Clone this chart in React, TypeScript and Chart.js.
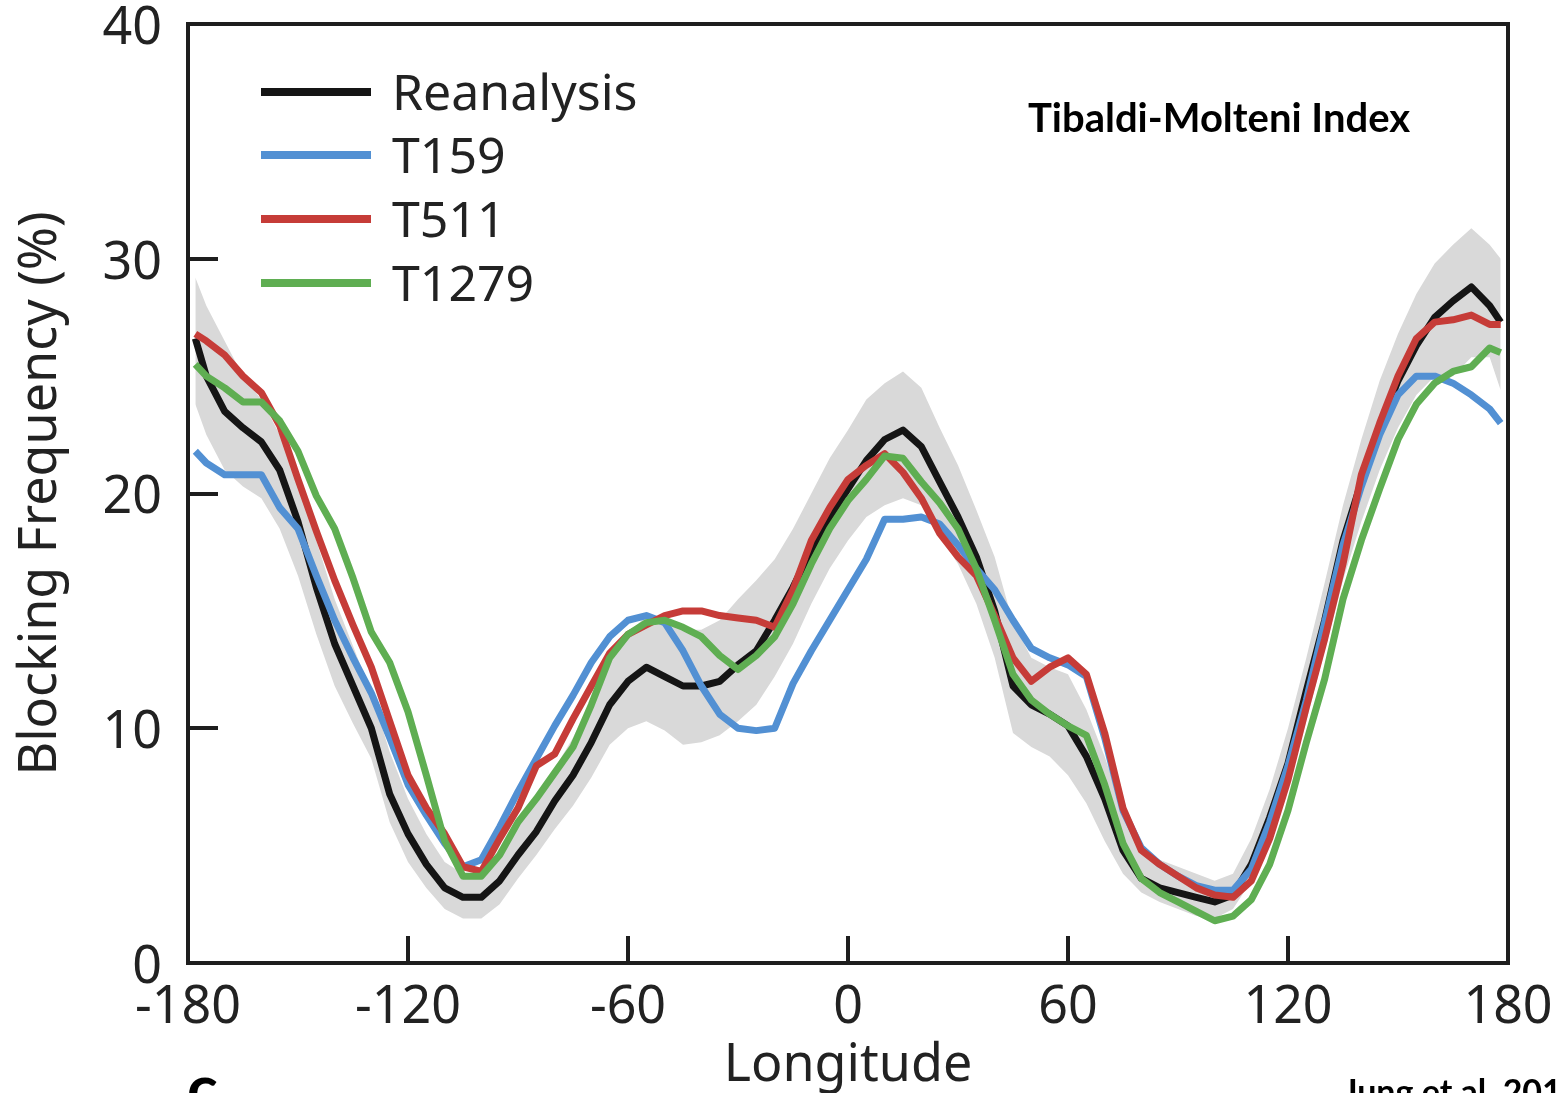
import React, { useEffect, useRef } from "react";
import { Chart, registerables } from "chart.js";

Chart.register(...registerables);

const longitudes = [
  -178, -175, -170, -165, -160, -155, -150, -145, -140, -135,
  -130, -125, -120, -115, -110, -105, -100, -95, -90, -85,
  -80, -75, -70, -65, -60, -55, -50, -45, -40, -35,
  -30, -25, -20, -15, -10, -5, 0, 5, 10, 15,
  20, 25, 30, 35, 40, 45, 50, 55, 60, 65,
  70, 75, 80, 85, 90, 95, 100, 105, 110, 115,
  120, 125, 130, 135, 140, 145, 150, 155, 160, 165,
  170, 175, 178,
];

const reanalysis = [
  26.6, 25.0, 23.5, 22.8, 22.2, 21.0, 18.8, 16.0, 13.6, 11.8,
  10.0, 7.2, 5.5, 4.2, 3.2, 2.8, 2.8, 3.5, 4.6, 5.6,
  6.9, 8.0, 9.4, 11.0, 12.0, 12.6, 12.2, 11.8, 11.8, 12.0,
  12.7, 13.3, 14.6, 16.0, 17.6, 19.0, 20.2, 21.4, 22.3, 22.7,
  22.0, 20.5, 19.0, 17.3, 15.0, 11.8, 11.0, 10.6, 10.1, 8.8,
  7.0, 4.8, 3.6, 3.2, 3.0, 2.8, 2.6, 2.9, 4.2, 6.2,
  8.5, 11.6, 14.6, 18.0, 20.5, 22.8, 24.8, 26.3, 27.5, 28.2,
  28.8, 28.0, 27.3,
];

const t159 = [
  21.8, 21.3, 20.8, 20.8, 20.8, 19.4, 18.5, 16.5, 14.6, 13.0,
  11.5, 9.6, 7.6, 6.3, 5.1, 4.1, 4.4, 5.8, 7.3, 8.7,
  10.1, 11.4, 12.8, 13.9, 14.6, 14.8, 14.5, 13.3, 11.8, 10.6,
  10.0, 9.9, 10.0, 11.9, 13.3, 14.6, 15.9, 17.2, 18.9, 18.9,
  19.0, 18.7, 17.8, 16.8, 15.9, 14.6, 13.4, 13.0, 12.7, 12.2,
  9.6, 6.5, 4.9, 4.2, 3.7, 3.3, 3.1, 3.1, 4.0, 6.0,
  8.4, 11.2, 14.5, 17.8, 20.3, 22.5, 24.2, 25.0, 25.0, 24.7,
  24.2, 23.6, 23.0,
];

const t511 = [
  26.8, 26.5, 25.9, 25.0, 24.3, 22.9, 20.6, 18.4, 16.3, 14.4,
  12.6, 10.3, 8.0, 6.6, 5.5, 4.1, 3.9, 5.3, 6.6, 8.4,
  8.9, 10.4, 11.8, 13.2, 14.0, 14.4, 14.8, 15.0, 15.0, 14.8,
  14.7, 14.6, 14.3, 15.9, 18.0, 19.4, 20.6, 21.2, 21.7, 20.9,
  19.8, 18.3, 17.3, 16.5, 14.8, 13.0, 12.0, 12.6, 13.0, 12.3,
  9.8, 6.6, 4.8, 4.2, 3.7, 3.2, 2.9, 2.8, 3.5, 5.3,
  7.8, 10.9, 13.8, 17.0, 20.8, 23.0, 25.0, 26.6, 27.3, 27.4,
  27.6, 27.2, 27.2,
];

const t1279 = [
  25.5, 25.0, 24.5, 23.9, 23.9, 23.1, 21.8, 19.9, 18.5, 16.4,
  14.1, 12.8, 10.7, 8.0, 5.2, 3.7, 3.7, 4.6, 6.0, 7.0,
  8.1, 9.2, 11.0, 13.0, 14.0, 14.5, 14.6, 14.3, 13.9, 13.1,
  12.5, 13.1, 13.9, 15.3, 17.0, 18.5, 19.7, 20.6, 21.6, 21.5,
  20.5, 19.6, 18.5, 16.8, 14.6, 12.3, 11.2, 10.6, 10.1, 9.7,
  7.6, 5.1, 3.6, 3.0, 2.6, 2.2, 1.8, 2.0, 2.7, 4.2,
  6.5, 9.4, 12.1, 15.5, 18.0, 20.2, 22.3, 23.8, 24.7, 25.2,
  25.4, 26.2, 26.0,
];

const bandUpper = [
  29.2, 28.0, 26.5, 25.0, 24.0, 22.5, 20.5, 18.0, 15.5, 13.5,
  11.5, 9.0, 7.0, 5.5, 4.3, 3.8, 3.8, 4.5, 5.8, 7.0,
  8.3, 9.6, 11.2, 12.8, 14.0, 14.8, 14.6, 14.2, 14.2, 14.6,
  15.5, 16.3, 17.2, 18.5, 20.0, 21.5, 22.7, 24.0, 24.7, 25.2,
  24.5, 22.8, 21.2, 19.3, 17.3, 14.5, 13.0, 12.6, 12.3, 10.8,
  8.8, 6.5, 5.0, 4.4, 4.1, 3.8, 3.5, 3.8, 5.3, 7.4,
  10.0, 13.0, 16.2, 19.5, 22.3, 24.8, 26.8, 28.5, 29.8, 30.6,
  31.3, 30.6, 30.0,
];

const bandLower = [
  23.8, 22.5, 21.0, 20.3, 19.8, 18.5, 16.5, 14.0, 11.8, 10.2,
  8.7, 6.0, 4.3, 3.2, 2.3, 1.9, 1.9, 2.5, 3.6, 4.6,
  5.7, 6.7, 7.9, 9.3, 10.0, 10.3, 9.9, 9.3, 9.4, 9.7,
  10.3, 11.0, 12.2, 13.6, 15.3, 16.8, 18.0, 19.0, 19.5, 19.8,
  19.5, 18.2, 17.0, 15.3, 13.0, 9.8, 9.2, 8.8, 8.0, 6.8,
  5.2, 3.8, 3.0, 2.6, 2.3, 2.0, 1.9, 2.3, 3.5, 5.4,
  7.5, 10.3, 13.3, 16.3, 18.8, 21.0, 22.8, 24.2, 25.0, 25.0,
  25.8, 25.8, 24.4,
];

const xTickValues = [-180, -120, -60, 0, 60, 120, 180];
const yTickValues = [0, 10, 20, 30, 40];

const seriesLabels = ["Reanalysis", "T159", "T511", "T1279"];
const seriesColors = ["#151515", "#5290d3", "#c63c38", "#5fae52"];
const seriesValues = [reanalysis, t159, t511, t1279];
const drawOrder = [3, 2, 1, 0];

const FONT = "'Noto Sans', sans-serif";
const INK = "#222222";

const toPoints = (vals: number[]) => longitudes.map((x, i) => ({ x, y: vals[i] }));

const decorPlugin = {
  id: "decor",
  afterDatasetsDraw(chart: any) {
    const { ctx, chartArea: a, scales } = chart;
    ctx.save();
    ctx.strokeStyle = "#1e1e1e";
    ctx.lineWidth = 4;
    ctx.lineCap = "butt";
    yTickValues.forEach((v) => {
      if (v === 0 || v === 40) return;
      const y = Math.round(scales.y.getPixelForValue(v));
      ctx.beginPath();
      ctx.moveTo(a.left, y);
      ctx.lineTo(a.left + 30, y);
      ctx.stroke();
    });
    xTickValues.forEach((v) => {
      if (v === -180 || v === 180) return;
      const x = Math.round(scales.x.getPixelForValue(v));
      ctx.beginPath();
      ctx.moveTo(x, a.bottom);
      ctx.lineTo(x, a.bottom - 27);
      ctx.stroke();
    });
    ctx.strokeRect(a.left, a.top, a.right - a.left, a.bottom - a.top);

    const rows = [68, 131, 195, 259];
    seriesLabels.forEach((label, i) => {
      const y = a.top + rows[i];
      ctx.strokeStyle = seriesColors[i];
      ctx.lineWidth = 8;
      ctx.beginPath();
      ctx.moveTo(a.left + 73, y);
      ctx.lineTo(a.left + 183, y);
      ctx.stroke();
      ctx.fillStyle = INK;
      ctx.font = `50px ${FONT}`;
      ctx.textAlign = "left";
      ctx.textBaseline = "alphabetic";
      ctx.fillText(label, a.left + 204, y + 18);
    });

    ctx.fillStyle = "#000000";
    ctx.font = "bold 40px Lato, sans-serif";
    ctx.textAlign = "left";
    ctx.textBaseline = "alphabetic";
    ctx.fillText("Tibaldi-Molteni Index", a.left + 840, a.top + 108);
    ctx.restore();
  },
  afterDraw(chart: any) {
    const { ctx } = chart;
    ctx.save();
    ctx.fillStyle = "#000000";
    ctx.textAlign = "left";
    ctx.textBaseline = "alphabetic";
    ctx.font = "bold 34px Lato, sans-serif";
    ctx.fillText("Jung et al. 2012", 1343, 1104);
    ctx.font = "bold 64px Lato, sans-serif";
    ctx.fillText("c", 187, 1111);
    ctx.restore();
  },
};

export default function App() {
  const ref = useRef<HTMLCanvasElement | null>(null);

  useEffect(() => {
    if (!ref.current) return;
    const datasets: any[] = seriesLabels.map((label, i) => ({
      label,
      data: toPoints(seriesValues[i]),
      borderColor: seriesColors[i],
      backgroundColor: seriesColors[i],
      borderWidth: 7,
      pointRadius: 0,
      tension: 0,
      fill: false,
      borderJoinStyle: "round",
      order: drawOrder[i],
    }));
    datasets.push({
      label: "band-upper",
      data: toPoints(bandUpper),
      borderWidth: 0,
      borderColor: "rgba(0,0,0,0)",
      backgroundColor: "#d9d9d9",
      pointRadius: 0,
      tension: 0,
      fill: "+1",
      order: 10,
    });
    datasets.push({
      label: "band-lower",
      data: toPoints(bandLower),
      borderWidth: 0,
      borderColor: "rgba(0,0,0,0)",
      backgroundColor: "#d9d9d9",
      pointRadius: 0,
      tension: 0,
      fill: false,
      order: 11,
    });

    const chart = new Chart(ref.current, {
      type: "line",
      data: { datasets },
      options: {
        animation: false,
        responsive: false,
        maintainAspectRatio: false,
        layout: { padding: { top: 24, right: 52, left: 0, bottom: 0 } },
        plugins: {
          legend: { display: false },
          tooltip: { enabled: false },
          filler: { drawTime: "beforeDatasetsDraw" },
        },
        scales: {
          x: {
            type: "linear",
            min: -180,
            max: 180,
            afterBuildTicks: (s: any) => {
              s.ticks = xTickValues.map((value) => ({ value }));
            },
            afterFit: (s: any) => {
              s.height = 130;
              s.paddingLeft = 0;
              s.paddingRight = 0;
            },
            grid: { display: false, drawTicks: false, tickLength: 0 },
            border: { display: false },
            ticks: {
              autoSkip: false,
              maxRotation: 0,
              padding: 14,
              color: INK,
              font: { family: FONT, size: 52 },
              callback: (v: any) => String(v),
            },
            title: {
              display: true,
              text: "Longitude",
              color: INK,
              font: { family: FONT, size: 52, lineHeight: 1.05 },
              padding: { top: 0, bottom: 0 },
            },
          },
          y: {
            type: "linear",
            min: 0,
            max: 40,
            afterBuildTicks: (s: any) => {
              s.ticks = yTickValues.map((value) => ({ value }));
            },
            afterFit: (s: any) => {
              s.width = 188;
              s.paddingTop = 0;
              s.paddingBottom = 0;
            },
            grid: { display: false, drawTicks: false, tickLength: 0 },
            border: { display: false },
            ticks: {
              autoSkip: false,
              padding: 26,
              labelOffset: 5,
              color: INK,
              font: { family: FONT, size: 52 },
              callback: (v: any) => String(v),
            },
            title: {
              display: true,
              text: "Blocking Frequency (%)",
              color: INK,
              font: { family: FONT, size: 52 },
              padding: { top: 10, bottom: 0 },
            },
          },
        },
      },
      plugins: [decorPlugin],
    });
    return () => chart.destroy();
  }, []);

  return (
    <div style={{ position: "absolute", left: 0, top: 0, width: 1560, height: 1093, background: "#ffffff", overflow: "hidden" }}>
      <canvas ref={ref} width={1560} height={1093} style={{ display: "block" }} />
    </div>
  );
}
